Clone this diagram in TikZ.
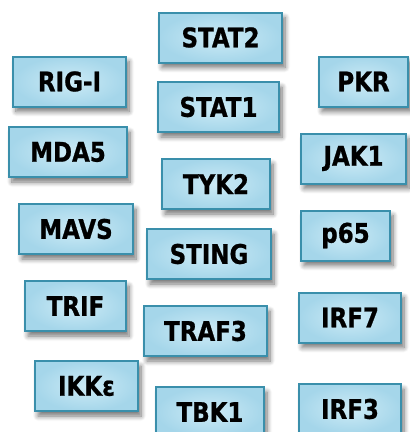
\documentclass[tikz,border=0pt]{standalone}
\usepackage{fontspec}
\newfontfamily\protfont[FakeStretch=0.85,BoldFeatures={FakeBold=0.8}]{DejaVu Sans}
\usetikzlibrary{shadows.blur}
\definecolor{protedge}{HTML}{3A8FAB}
\definecolor{protin}{HTML}{CDEBF6}
\definecolor{protout}{HTML}{A5D6EA}

\begin{document}
\begin{tikzpicture}[x=1pt,y=-1pt,
  prot/.style={draw=protedge,line width=2pt,inner color=protin,outer color=protout,
    minimum height=50pt,inner sep=0pt,
    blur shadow={shadow xshift=3pt,shadow yshift=-5pt,shadow opacity=55,shadow blur radius=5pt,shadow blur steps=8},
    font=\protfont\bfseries\fontsize{27}{32}\selectfont}]
\useasboundingbox (0,0) rectangle (410,432);
\foreach \nm/\cx/\cy/\bw/\txt in {
  stat2/220.5/37.5/123/STAT2, rigi/69.5/81.5/113/RIG-I, stat1/218.5/107/121/STAT1,
  pkr/363.5/81.5/89/PKR, mda5/68/152/118/MDA5, jak1/353.5/158.5/105/JAK1,
  tyk2/216/184/108/TYK2, mavs/76/229/114/MAVS, sting/209/254/124/STING,
  p65/345.5/235.5/89/p65, trif/75.5/306/101/TRIF, traf3/205.5/331/123/TRAF3,
  irf7/350/317.5/102/IRF7, ikke/86.5/386/103/IKKε, tbk1/210/412/108/TBK1,
  irf3/350/409/102/IRF3}
  \node[prot,minimum width=\bw pt] (\nm) at (\cx,\cy) {\txt};
\end{tikzpicture}
\end{document}
